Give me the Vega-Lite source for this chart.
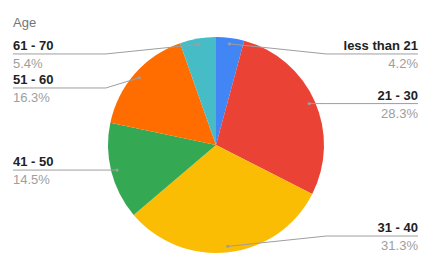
{
  "$schema": "https://vega.github.io/schema/vega-lite/v6.json",
  "width": 432,
  "height": 244,
  "autosize": "none",
  "padding": {"top": 23, "left": 0, "right": 0, "bottom": 0},
  "title": {"text": "Age", "anchor": "start", "dx": 13, "dy": 14, "font": "Liberation Sans", "fontSize": 13, "fontWeight": "normal", "color": "#757575", "baseline": "alphabetic", "offset": -3},
  "config": {"view": {"stroke": null}},
  "data": {"values": [
    {"age": "less than 21", "pct": 4.2},
    {"age": "21 - 30", "pct": 28.3},
    {"age": "31 - 40", "pct": 31.3},
    {"age": "41 - 50", "pct": 14.5},
    {"age": "51 - 60", "pct": 16.3},
    {"age": "61 - 70", "pct": 5.4}
  ]},
  "transform": [
    {"window": [{"op": "sum", "field": "pct", "as": "cum"}, {"op": "row_number", "as": "idx"}], "frame": [null, 0]},
    {"calculate": "(datum.cum - datum.pct / 2) / 100 * 2 * PI", "as": "mid"},
    {"calculate": "0.945 * sin(datum.mid)", "as": "px"},
    {"calculate": "0.945 * cos(datum.mid)", "as": "py"},
    {"calculate": "datum.px >= 0 ? 'right' : 'left'", "as": "side"},
    {"calculate": "clamp(datum.py, -0.843, 0.843)", "as": "ly0"},
    {"window": [{"op": "lag", "field": "ly0", "as": "prev"}], "groupby": ["side"], "sort": [{"field": "ly0", "order": "descending"}]},
    {"calculate": "datum.prev == null ? datum.ly0 : min(datum.ly0, datum.prev - 0.315)", "as": "ly"},
    {"calculate": "datum.side == 'right' ? 1.02 : -1.02", "as": "bx"},
    {"calculate": "datum.side == 'right' ? 1.87 : -1.88", "as": "ex"},
    {"calculate": "format(datum.pct, '.1f') + '%'", "as": "pctLabel"}
  ],
  "layer": [
    {
      "mark": {"type": "arc", "outerRadius": 108},
      "encoding": {
        "theta": {"field": "pct", "type": "quantitative", "stack": true},
        "order": {"field": "idx", "type": "quantitative"},
        "color": {"field": "age", "type": "nominal", "legend": null,
          "scale": {"domain": ["less than 21", "21 - 30", "31 - 40", "41 - 50", "51 - 60", "61 - 70"],
                    "range": ["#4285F4", "#EA4335", "#FBBC04", "#34A853", "#FF6D01", "#46BDC6"]}}
      }
    },
    {
      "mark": {"type": "rule", "color": "#9e9e9e", "strokeWidth": 1},
      "encoding": {
        "x": {"field": "ex", "type": "quantitative", "axis": null, "scale": {"domain": [-2, 2], "nice": false, "zero": false}},
        "x2": {"field": "bx"},
        "y": {"field": "ly", "type": "quantitative", "axis": null, "scale": {"domain": [-1.12963, 1.12963], "nice": false, "zero": false}},
        "y2": {"field": "ly"}
      }
    },
    {
      "mark": {"type": "rule", "color": "#9e9e9e", "strokeWidth": 1},
      "encoding": {
        "x": {"field": "bx", "type": "quantitative"},
        "x2": {"field": "px"},
        "y": {"field": "ly", "type": "quantitative"},
        "y2": {"field": "py"}
      }
    },
    {
      "mark": {"type": "point", "filled": true, "color": "#9e9e9e", "size": 10, "opacity": 1},
      "encoding": {
        "x": {"field": "px", "type": "quantitative"},
        "y": {"field": "py", "type": "quantitative"}
      }
    },
    {
      "transform": [{"filter": "datum.side == 'left'"}],
      "mark": {"type": "text", "align": "left", "baseline": "alphabetic", "dy": -4, "font": "Liberation Sans", "fontSize": 13, "fontWeight": "bold", "color": "#222222"},
      "encoding": {
        "x": {"field": "ex", "type": "quantitative"},
        "y": {"field": "ly", "type": "quantitative"},
        "text": {"field": "age"}
      }
    },
    {
      "transform": [{"filter": "datum.side == 'left'"}],
      "mark": {"type": "text", "align": "left", "baseline": "alphabetic", "dy": 14, "font": "Liberation Sans", "fontSize": 13, "color": "#9e9e9e"},
      "encoding": {
        "x": {"field": "ex", "type": "quantitative"},
        "y": {"field": "ly", "type": "quantitative"},
        "text": {"field": "pctLabel"}
      }
    },
    {
      "transform": [{"filter": "datum.side == 'right'"}],
      "mark": {"type": "text", "align": "right", "baseline": "alphabetic", "dy": -4, "font": "Liberation Sans", "fontSize": 13, "fontWeight": "bold", "color": "#222222"},
      "encoding": {
        "x": {"field": "ex", "type": "quantitative"},
        "y": {"field": "ly", "type": "quantitative"},
        "text": {"field": "age"}
      }
    },
    {
      "transform": [{"filter": "datum.side == 'right'"}],
      "mark": {"type": "text", "align": "right", "baseline": "alphabetic", "dy": 14, "font": "Liberation Sans", "fontSize": 13, "color": "#9e9e9e"},
      "encoding": {
        "x": {"field": "ex", "type": "quantitative"},
        "y": {"field": "ly", "type": "quantitative"},
        "text": {"field": "pctLabel"}
      }
    }
  ]
}
